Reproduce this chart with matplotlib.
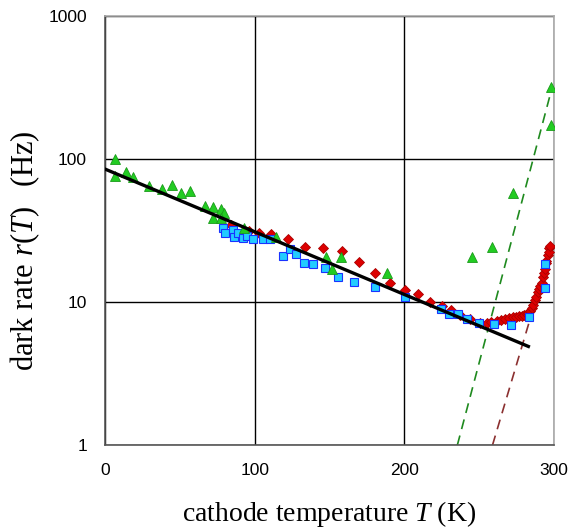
import matplotlib
matplotlib.use("Agg")
import matplotlib.pyplot as plt
import numpy as np

# ---- data ----
tri_T = [6.7, 6.7, 14.0, 18.7, 29.4, 38.1, 44.8, 50.8, 56.8, 66.8, 72.2, 77.5, 79.5, 72.2, 77.5,
         92.9, 114.3, 147.7, 157.7, 151.7, 188.4, 245.2, 258.6, 272.6, 298.0, 298.0]
tri_r = [100, 76, 81, 75, 65, 62, 66, 58, 60, 47, 46, 45, 42, 39, 39,
         33, 28.5, 20.6, 20.6, 17, 16, 20.6, 24.3, 58, 319, 173]

dia_T = [84.2, 96.2, 102.9, 110.9, 122.3, 133.6, 145.7, 158.3, 169.7, 180.4, 190.4, 200.4, 209.1,
         217.1, 225.2, 231.2, 237.2, 243.9, 250.6, 255.2, 258, 261.9, 265, 267.3, 270, 272.6, 275,
         277, 278.6, 280, 282.0, 283, 284, 285.3, 286, 287.3, 288, 289.3, 290, 291, 292.0, 293,
         293.3, 294, 294.6, 295, 296.0, 296.6, 297, 297.5]
dia_r = [34.5, 31.4, 30.4, 29.9, 27.6, 24.3, 23.9, 22.7, 19.0, 16.0, 13.6, 12.1, 11.4,
         10.0, 9.4, 8.8, 8.1, 7.6, 7.2, 7.2, 7.3, 7.4, 7.5, 7.6, 7.7, 7.9, 7.9,
         8.0, 8.0, 8.1, 8.2, 8.4, 8.6, 9.1, 9.6, 10.3, 10.8, 11.7, 12.4, 13.0, 13.6, 15.0,
         16.0, 17.0, 18.7, 19.5, 21.3, 23.9, 22.5, 24.5]

sq_T = [78.8, 80.2, 85.5, 86.2, 88.9, 92.2, 94.9, 98.9, 105.6, 110.2, 118.9, 123.6, 127.6, 133.0,
        139.0, 147.0, 155.7, 166.4, 180.4, 200.4, 224.5, 229.8, 235.9, 241.9, 249.9, 259.9, 271.3,
        283.3, 294.0, 294.0]
sq_r = [32.9, 30.4, 31.9, 28.5, 30.4, 28.0, 29.0, 27.6, 27.6, 27.6, 21.0, 23.5, 21.7, 18.7,
        18.4, 17.3, 15.0, 13.8, 12.7, 10.8, 8.9, 8.2, 8.2, 7.6, 7.1, 7.0, 6.9,
        7.9, 12.5, 18.4]

fit_T = [0, 283]
fit_r = [85, 4.9]

green_dash_T = [235.5, 299]
green_dash_r = [1, 320]

red_dash_T = [259, 300.5]
red_dash_r = [1, 28.5]

x_ticks = [0, 100, 200, 300]
y_ticks = [1, 10, 100, 1000]
y_ticklabels = ["1", "10", "100", "1000"]

# ---- plot ----
plt.rcParams['mathtext.fontset'] = 'custom'
plt.rcParams['mathtext.rm'] = 'Liberation Serif'
plt.rcParams['mathtext.it'] = 'Liberation Serif:italic'

fig = plt.figure(figsize=(5.68, 5.30), dpi=100)
ax = fig.add_axes([0.185, 0.160, 0.790, 0.810])
ax.set_yscale('log')
ax.set_xlim(0, 300)
ax.set_ylim(1, 1000)

ax.grid(True, which='major', color='black', linewidth=1.0)
ax.set_axisbelow(True)

ax.plot(green_dash_T, green_dash_r, color='#1f8a1f', linestyle=(0, (6, 4)), linewidth=1.2, zorder=2)
ax.plot(red_dash_T, red_dash_r, color='#8b3030', linestyle=(0, (6, 4)), linewidth=1.2, zorder=2)

ax.plot(dia_T, dia_r, linestyle='none', marker='D', markersize=5.5, markerfacecolor='#dd0000',
        markeredgecolor='#aa0000', markeredgewidth=0.6, zorder=3)
ax.plot(sq_T, sq_r, linestyle='none', marker='s', markersize=5.5, markerfacecolor='#22ccff',
        markeredgecolor='#1a33ff', markeredgewidth=0.8, zorder=4)
ax.plot(tri_T, tri_r, linestyle='none', marker='^', markersize=7, markerfacecolor='#22cc22',
        markeredgecolor='#1a9a1a', markeredgewidth=0.6, zorder=4)
ax.plot(fit_T, fit_r, color='black', linewidth=2.4, zorder=5)

ax.set_xticks(x_ticks)
ax.set_yticks(y_ticks)
ax.set_yticklabels(y_ticklabels)
ax.minorticks_off()
ax.tick_params(length=0, labelsize=12.5, pad=13)
for lab in ax.get_xticklabels() + ax.get_yticklabels():
    lab.set_family('Liberation Sans')

for side in ['left', 'bottom']:
    ax.spines[side].set_color('#555555')
    ax.spines[side].set_linewidth(1.2)
for side in ['top', 'right']:
    ax.spines[side].set_color('#aaaaaa')
    ax.spines[side].set_linewidth(1.2)

ax.set_xlabel(r'cathode temperature $T\,\,$(K)', fontsize=20, family='Liberation Serif')
ax.xaxis.set_label_coords(0.5, -0.125)
ax.set_ylabel(r'dark rate $r(T)\;\;$ (Hz)', fontsize=22, family='Liberation Serif')
ax.yaxis.set_label_coords(-0.14, 0.452)

fig.savefig('out.png', dpi=100)
